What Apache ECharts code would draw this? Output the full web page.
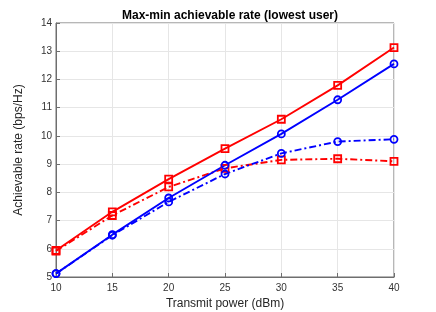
<!DOCTYPE html>
<html><head><meta charset="utf-8">
<script src="https://cdn.jsdelivr.net/npm/echarts@6/dist/echarts.min.js"></script>
<style>html,body{margin:0;padding:0;background:#fff}#c{width:436px;height:312px}</style>
</head><body><div id="c"></div>
<script>
const categories = [10, 15, 20, 25, 30, 35, 40];
const redSolid = [5.94, 7.31, 8.47, 9.55, 10.59, 11.79, 13.13];
const redDash = [5.92, 7.18, 8.19, 8.85, 9.15, 9.19, 9.10];
const blueSolid = [5.12, 6.50, 7.80, 8.96, 10.07, 11.28, 12.55];
const blueDash = [5.12, 6.48, 7.66, 8.65, 9.38, 9.80, 9.88];
const xTicks = [10, 15, 20, 25, 30, 35, 40];
const yTicks = [5, 6, 7, 8, 9, 10, 11, 12, 13, 14];

const pair = arr => categories.map((x, i) => [x, arr[i]]);
const font = 'Liberation Sans, Arial, sans-serif';
const axisCol = '#6e6e6e';
function mk(data, color, dashed, symbol) {
  return {
    type: 'line', data: pair(data), symbol: symbol, symbolSize: 7,
    showSymbol: true,
    itemStyle: { color: 'rgba(255,255,255,0)', borderColor: color, borderWidth: 1.8 },
    lineStyle: { color: color, width: 1.9, type: dashed ? [7, 3, 2, 3] : 'solid' },
    emphasis: { disabled: true }, z: 3
  };
}
const chart = echarts.init(document.getElementById('c'), null, { renderer: 'canvas' });
chart.setOption({
  animation: false,
  backgroundColor: '#fff',
  title: { text: 'Max-min achievable rate (lowest user)', left: 225, top: 5, textAlign: 'center',
    textStyle: { fontFamily: font, fontSize: 12, fontWeight: 'bold', color: '#000' } },
  grid: { left: 56, right: 42, top: 23, bottom: 35, show: true, borderColor: axisCol, borderWidth: 1,
    containLabel: false, outerBoundsMode: 'none' },
  xAxis: {
    type: 'value', min: 10, max: 40, interval: 5,
    name: 'Transmit power (dBm)', nameLocation: 'middle', nameGap: 19,
    nameTextStyle: { fontFamily: font, fontSize: 12, color: '#262626' },
    axisLine: { show: true, onZero: false, lineStyle: { color: axisCol } },
    axisTick: { show: true, inside: true, length: 4, lineStyle: { color: axisCol } },
    axisLabel: { fontFamily: font, fontSize: 10, color: '#333', margin: 6,
      formatter: v => xTicks.includes(v) ? String(v) : '' },
    splitLine: { show: true, lineStyle: { color: '#e6e6e6' } }
  },
  yAxis: {
    type: 'value', min: 5, max: 14, interval: 1,
    name: 'Achievable rate (bps/Hz)', nameLocation: 'middle', nameGap: 31,
    nameTextStyle: { fontFamily: font, fontSize: 12, color: '#262626' },
    axisLine: { show: true, onZero: false, lineStyle: { color: axisCol } },
    axisTick: { show: true, inside: true, length: 4, lineStyle: { color: axisCol } },
    axisLabel: { fontFamily: font, fontSize: 10, color: '#333', margin: 4,
      formatter: v => yTicks.includes(v) ? String(v) : '' },
    splitLine: { show: true, lineStyle: { color: '#e6e6e6' } }
  },
  series: [
    mk(redDash, '#ff0000', true, 'rect'),
    mk(blueDash, '#0000ff', true, 'circle'),
    mk(blueSolid, '#0000ff', false, 'circle'),
    mk(redSolid, '#ff0000', false, 'rect')
  ]
});
</script></body></html>
